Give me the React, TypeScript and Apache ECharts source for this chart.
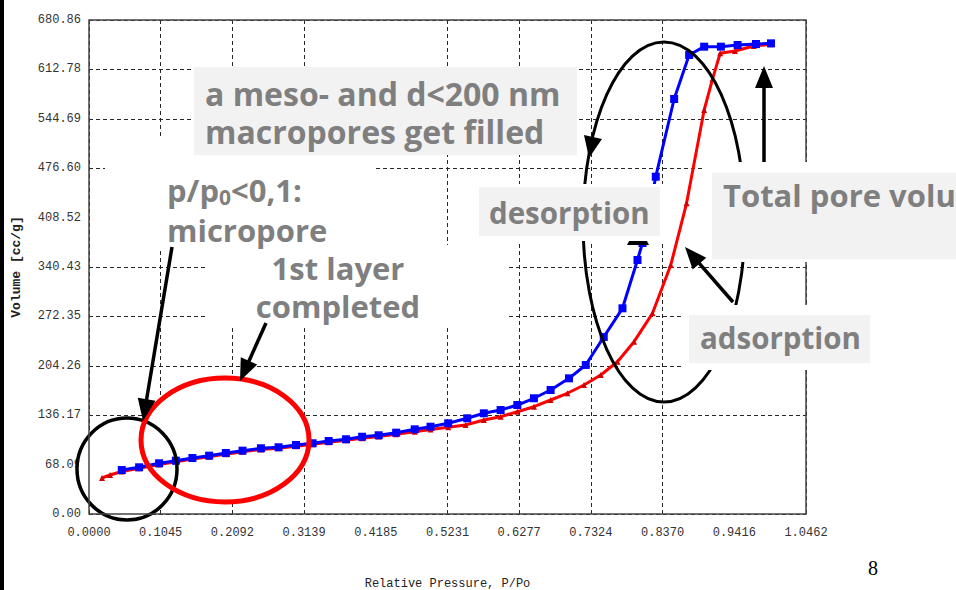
import React, { useEffect, useRef } from 'react';
import * as echarts from 'echarts';

// ---- axis ticks ----
const xTickLabels = ['0.0000', '0.1045', '0.2092', '0.3139', '0.4185', '0.5231', '0.6277', '0.7324', '0.8370', '0.9416', '1.0462'];
const yTickLabels = ['0.00', '68.09', '136.17', '204.26', '272.35', '340.43', '408.52', '476.60', '544.69', '612.78', '680.86'];
const X_MAX = 1.0462;
const X_STEP = 0.10462;
const Y_MAX = 680.86;
const Y_STEP = 68.086;

// ---- adsorption branch (red) ----
const adsorptionP = [0.019, 0.0307, 0.0478, 0.0731, 0.1023, 0.1267, 0.1509, 0.1753, 0.1997, 0.224, 0.2509, 0.2766, 0.302, 0.3263, 0.3497, 0.3751, 0.3985, 0.4227, 0.4482, 0.4753, 0.4983, 0.5241, 0.5494, 0.5761, 0.6006, 0.625, 0.6492, 0.6736, 0.698, 0.7223, 0.7467, 0.7711, 0.7953, 0.8222, 0.8489, 0.8719, 0.8976, 0.91, 0.921, 0.9425, 0.97, 0.9951];
const adsorptionV = [49.6, 53.8, 58.5, 63.0, 68.3, 72.0, 75.8, 79.0, 82.5, 85.8, 89.0, 90.5, 93.5, 96.0, 99.0, 101.5, 104.5, 106.8, 110.0, 113.5, 116.5, 119.5, 122.7, 129.6, 134.1, 141.0, 147.9, 157.1, 166.4, 177.8, 191.6, 209.9, 237.5, 276.6, 343.2, 428.2, 556.8, 600.0, 635.0, 638.1, 645.0, 647.5];

// ---- desorption branch (blue) ----
const desorptionP = [0.0478, 0.0731, 0.1023, 0.1267, 0.1509, 0.1753, 0.1997, 0.224, 0.2509, 0.2766, 0.302, 0.3263, 0.3497, 0.3751, 0.3985, 0.4227, 0.4482, 0.4753, 0.4983, 0.5241, 0.5519, 0.5761, 0.6006, 0.625, 0.6492, 0.6736, 0.7004, 0.7248, 0.7511, 0.7784, 0.8003, 0.8076, 0.827, 0.8538, 0.8757, 0.8976, 0.922, 0.9464, 0.9732, 0.9951];
const desorptionV = [60.6, 64.4, 69.9, 73.5, 77.2, 80.4, 84.1, 87.3, 90.6, 92.0, 95.1, 97.5, 100.6, 103.0, 106.5, 108.5, 112.1, 116.7, 120.3, 125.0, 131.9, 138.8, 143.3, 150.2, 159.5, 170.9, 187.0, 205.4, 244.0, 283.5, 350.1, 373.5, 464.9, 572.0, 632.6, 644.1, 644.1, 646.4, 647.8, 648.7];

const GRID_C = '#262626';
const xGridColors = [GRID_C, GRID_C, GRID_C, GRID_C, 'rgba(0,0,0,0)', GRID_C, GRID_C, GRID_C, GRID_C, 'rgba(0,0,0,0)', GRID_C];
const yGridColors = [GRID_C, 'rgba(0,0,0,0)', GRID_C, GRID_C, GRID_C, GRID_C, 'rgba(0,0,0,0)', GRID_C, GRID_C, GRID_C, GRID_C];

const BOX_FONT = "'Open Sans', 'Noto Sans', sans-serif";
const BOX_TEXT = '#7f7f7f';
const BOX_FILL = '#f2f2f2';

function arrow(x1: number, y1: number, x2: number, y2: number, z: number) {
  const dx = x2 - x1;
  const dy = y2 - y1;
  const L = Math.hypot(dx, dy);
  const ux = dx / L;
  const uy = dy / L;
  const hl = 22;
  const hw = 9;
  const bx = x2 - ux * hl;
  const by = y2 - uy * hl;
  return [
    { type: 'line', z, shape: { x1, y1, x2: bx + ux * 3, y2: by + uy * 3 }, style: { stroke: '#000', lineWidth: 3.5 } },
    {
      type: 'polygon', z,
      shape: { points: [[x2, y2], [bx - uy * hw, by + ux * hw], [bx + uy * hw, by - ux * hw]] },
      style: { fill: '#000' },
    },
  ];
}

function rect(x: number, y: number, w: number, h: number, fill: string, z: number) {
  return { type: 'rect', z, shape: { x, y, width: w, height: h }, style: { fill } };
}

function boxText(text: string, x: number, y: number, z: number, extra: any = {}) {
  const size = extra.size || 31;
  return {
    type: 'text', z, x, y,
    style: {
      text,
      fill: BOX_TEXT,
      fontFamily: BOX_FONT,
      fontWeight: 'bold',
      fontSize: size,
      lineHeight: 38,
      align: extra.align || 'left',
      textAlign: extra.align || 'left',
      verticalAlign: 'top',
      textVerticalAlign: 'top',
      ...(extra.rich ? { rich: extra.rich } : {}),
    },
  };
}

export default function App() {
  const ref = useRef<HTMLDivElement>(null);

  useEffect(() => {
    if (!ref.current) return;
    const chart = echarts.init(ref.current, null, { renderer: 'svg' });

    const axisLabelStyle = { color: '#333', fontFamily: "'Liberation Mono', 'DejaVu Sans Mono', monospace", fontSize: 12 };

    const graphics: any[] = [
      // white fills inside the two highlight ellipses (hide the grid, not the curves)
      { type: 'ellipse', z: 1, shape: { cx: 127, cy: 469, rx: 50, ry: 51 }, style: { fill: '#fff' } },
      { type: 'ellipse', z: 1, shape: { cx: 225, cy: 440, rx: 84, ry: 62 }, style: { fill: '#fff' } },
      // ellipse strokes
      { type: 'ellipse', z: 3, shape: { cx: 127, cy: 469, rx: 50, ry: 51 }, style: { fill: 'none', stroke: '#000', lineWidth: 3.5 } },
      { type: 'ellipse', z: 3, shape: { cx: 225, cy: 440, rx: 84, ry: 62 }, style: { fill: 'none', stroke: '#ff0000', lineWidth: 5 } },
      { type: 'ellipse', z: 3, shape: { cx: 664, cy: 222, rx: 81, ry: 180 }, style: { fill: 'none', stroke: '#000', lineWidth: 3 } },
      // arrowhead on big ellipse
      { type: 'polygon', z: 3, shape: { points: [[589, 158], [602, 139], [584, 135]] }, style: { fill: '#000' } },
      // arrowhead partly under the desorption box
      { type: 'polygon', z: 5, shape: { points: [[638, 224], [627, 245], [649, 245]] }, style: { fill: '#000' } },

      // white masks
      rect(105, 138, 271, 112, '#fff', 6),
      rect(205, 245, 302, 82, '#fff', 6),
      rect(476, 184, 189, 57, '#fff', 6),
      rect(705, 162, 251, 100, '#fff', 6),
      rect(682, 305, 190, 65, '#fff', 6),

      // grey boxes
      rect(194, 67, 383, 88, BOX_FILL, 7),
      rect(479, 187, 181, 49, BOX_FILL, 7),
      rect(712, 173, 244, 86, BOX_FILL, 7),
      rect(689, 315, 181, 48, BOX_FILL, 7),

      // texts
      boxText('a meso- and d<200 nm\nmacropores get filled', 205, 74, 8, { size: 32 }),
      boxText('{a|p/p}{s|0}{a|<0,1:}', 167, 173, 8, {
        rich: {
          a: { fontFamily: BOX_FONT, fontWeight: 'bold', fontSize: 31, lineHeight: 34, fill: BOX_TEXT },
          s: { fontFamily: BOX_FONT, fontWeight: 'bold', fontSize: 21, lineHeight: 18, padding: [14, 0, 0, 0], fill: BOX_TEXT },
        },
      }),
      boxText('micropore', 167, 211, 8),
      boxText('1st layer\ncompleted', 338, 249, 8, { align: 'center' }),
      boxText('desorption', 489, 193, 8, { size: 29.5 }),
      boxText('Total pore volume', 723, 176, 8),
      boxText('adsorption', 700, 318, 8, { size: 29.5 }),

      // arrows
      ...arrow(172, 247, 143, 421, 9),
      ...arrow(266, 323, 240, 381, 9),
      ...arrow(733, 302, 685, 247, 9),
      ...arrow(764, 162, 764, 66, 9),

      // slide decorations
      rect(0, 0, 4, 590, '#000', 10),
      {
        type: 'text', z: 10, x: 873, y: 568,
        style: { text: '8', fill: '#000', fontFamily: "'Liberation Serif', serif", fontSize: 20, align: 'center', textAlign: 'center', verticalAlign: 'middle', textVerticalAlign: 'middle' },
      },
    ];

    chart.setOption({
      animation: false,
      backgroundColor: '#fff',
      grid: {
        left: 89, top: 20, width: 717, height: 494, show: true, borderColor: '#444', borderWidth: 1.5, z: 4,
        backgroundColor: 'rgba(0,0,0,0)', containLabel: false, outerBoundsMode: 'none',
      },
      xAxis: {
        type: 'value', min: 0, max: X_MAX, interval: X_STEP,
        axisLine: { show: false }, axisTick: { show: false },
        axisLabel: { ...axisLabelStyle, margin: 13, formatter: (v: number) => xTickLabels[Math.round(v / X_STEP)] ?? '' },
        splitLine: { show: true, lineStyle: { color: xGridColors, type: [4, 3], width: 1 } },
        name: 'Relative Pressure, P/Po', nameLocation: 'middle', nameGap: 64,
        nameTextStyle: { color: '#222', fontFamily: "'Liberation Mono', 'DejaVu Sans Mono', monospace", fontSize: 12 },
      },
      yAxis: {
        type: 'value', min: 0, max: Y_MAX, interval: Y_STEP,
        axisLine: { show: false }, axisTick: { show: false },
        axisLabel: { ...axisLabelStyle, margin: 8, formatter: (v: number) => yTickLabels[Math.round(v / Y_STEP)] ?? '' },
        splitLine: { show: true, lineStyle: { color: yGridColors, type: [4, 3], width: 1 } },
        name: 'Volume [cc/g]', nameLocation: 'middle', nameGap: 66,
        nameTextStyle: { color: '#222', fontFamily: "'Liberation Mono', 'DejaVu Sans Mono', monospace", fontSize: 13, fontWeight: 'bold' },
      },
      series: [
        {
          name: 'adsorption', type: 'line', z: 2,
          data: adsorptionP.map((p, i) => [p, adsorptionV[i]]),
          symbol: 'triangle', symbolSize: 6, showAllSymbol: true,
          lineStyle: { color: '#ff0000', width: 3 },
          itemStyle: { color: '#d40000' },
        },
        {
          name: 'desorption', type: 'line', z: 2,
          data: desorptionP.map((p, i) => [p, desorptionV[i]]),
          symbol: 'rect', symbolSize: 8, showAllSymbol: true,
          lineStyle: { color: '#0000ff', width: 3 },
          itemStyle: { color: '#0000ff' },
        },
      ],
      graphic: { elements: graphics },
    });

    return () => chart.dispose();
  }, []);

  return (
    <div
      ref={ref}
      style={{ position: 'absolute', left: 0, top: 0, width: 956, height: 590, overflow: 'hidden', background: '#fff' }}
    />
  );
}
